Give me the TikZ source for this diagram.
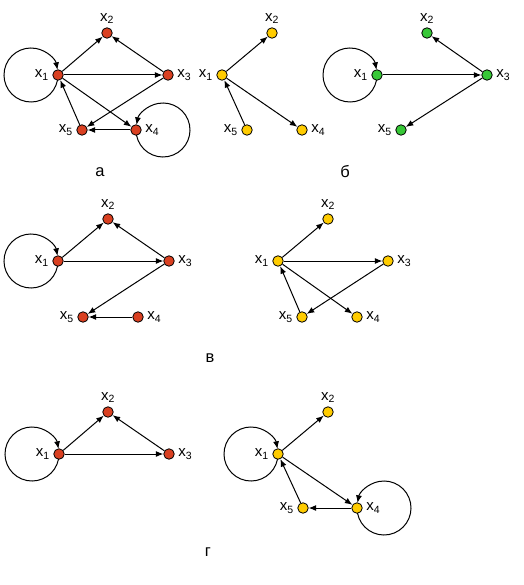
\documentclass[tikz,border=0pt]{standalone}
\usepackage{fontspec}
\setmainfont{Liberation Sans}
\usepackage{tikz}
\usepackage{xcolor}
\usetikzlibrary{arrows.meta}

\definecolor{vred}{RGB}{217,64,33}
\definecolor{vyellow}{RGB}{255,204,0}
\definecolor{vgreen}{RGB}{55,200,55}

\newcommand{\vx}[1]{x\textsubscript{#1}}

\begin{document}
\begin{tikzpicture}[
  x=1pt,
  y=-1pt,
  vertex/.style={
    circle,
    draw,
    line width=0.8pt,
    minimum size=10.5pt,
    inner sep=0pt,
  },
  redv/.style={vertex, fill=vred},
  yelv/.style={vertex, fill=vyellow},
  grnv/.style={vertex, fill=vgreen},
  every label/.style={font=\fontsize{15}{16}\selectfont, inner sep=3.5pt},
  label distance=0pt,
  arr/.style={draw, line width=1pt, -{Latex[length=7.5pt, width=6pt]}},
  caption/.style={font=\fontsize{16.5}{18}\selectfont},
]
\useasboundingbox (0,0) rectangle (523,585);

% graph a
\node[redv, label={left:\vx1}] (a1) at (58,75) {};
\node[redv, label={above:\vx2}] (a2) at (107,33) {};
\node[redv, label={right:\vx3}] (a3) at (168,75) {};
\node[redv, label={right:\vx4}] (a4) at (136,130) {};
\node[redv, label={left:\vx5}] (a5) at (82,130) {};
\draw[arr] (a1) -- (a2);
\draw[arr] (a3) -- (a2);
\draw[arr] (a1) -- (a3);
\draw[arr] (a3) -- (a5);
\draw[arr] (a1) -- (a4);
\draw[arr] (a4) -- (a5);
\draw[arr] (a5) -- (a1);
\draw[arr] (a1) ++(-27pt,0) ++(-11:27pt) arc[start angle=-11, end angle=-349, radius=27pt];
\draw[arr] (a4) ++(27pt,0) ++(191:27pt) arc[start angle=191, end angle=529, radius=27pt];

% graph b
\node[yelv, label={left:\vx1}] (b1) at (222,75) {};
\node[yelv, label={above:\vx2}] (b2) at (272,33) {};
\node[yelv, label={right:\vx4}] (b4) at (302,130) {};
\node[yelv, label={left:\vx5}] (b5) at (247,130) {};
\draw[arr] (b1) -- (b2);
\draw[arr] (b1) -- (b4);
\draw[arr] (b5) -- (b1);

% graph c
\node[grnv, label={left:\vx1}] (c1) at (377,75) {};
\node[grnv, label={above:\vx2}] (c2) at (427,33) {};
\node[grnv, label={right:\vx3}] (c3) at (487,75) {};
\node[grnv, label={left:\vx5}] (c5) at (401,130) {};
\draw[arr] (c1) -- (c3);
\draw[arr] (c3) -- (c2);
\draw[arr] (c3) -- (c5);
\draw[arr] (c1) ++(-27pt,0) ++(-11:27pt) arc[start angle=-11, end angle=-349, radius=27pt];

\node[caption] (capa) at (100,172) {а};
\node[caption] (capb) at (345,172) {б};

% graph d
\node[redv, label={left:\vx1}] (d1) at (58,261) {};
\node[redv, label={above:\vx2}] (d2) at (108,219) {};
\node[redv, label={right:\vx3}] (d3) at (169,261) {};
\node[redv, label={right:\vx4}] (d4) at (138,317) {};
\node[redv, label={left:\vx5}] (d5) at (83,317) {};
\draw[arr] (d1) -- (d2);
\draw[arr] (d3) -- (d2);
\draw[arr] (d1) -- (d3);
\draw[arr] (d3) -- (d5);
\draw[arr] (d4) -- (d5);
\draw[arr] (d1) ++(-27pt,0) ++(-11:27pt) arc[start angle=-11, end angle=-349, radius=27pt];

% graph e
\node[yelv, label={left:\vx1}] (e1) at (278,261) {};
\node[yelv, label={above:\vx2}] (e2) at (328,219) {};
\node[yelv, label={right:\vx3}] (e3) at (388,261) {};
\node[yelv, label={right:\vx4}] (e4) at (357,317) {};
\node[yelv, label={left:\vx5}] (e5) at (302,317) {};
\draw[arr] (e1) -- (e2);
\draw[arr] (e1) -- (e3);
\draw[arr] (e1) -- (e4);
\draw[arr] (e3) -- (e5);
\draw[arr] (e5) -- (e1);

\node[caption] (capc) at (210,358) {в};

% graph f
\node[redv, label={left:\vx1}] (f1) at (59,454) {};
\node[redv, label={above:\vx2}] (f2) at (108,412) {};
\node[redv, label={right:\vx3}] (f3) at (169,454) {};
\draw[arr] (f1) -- (f2);
\draw[arr] (f3) -- (f2);
\draw[arr] (f1) -- (f3);
\draw[arr] (f1) ++(-27pt,0) ++(-11:27pt) arc[start angle=-11, end angle=-349, radius=27pt];

% graph g
\node[yelv, label={left:\vx1}] (g1) at (278,454) {};
\node[yelv, label={above:\vx2}] (g2) at (328,412) {};
\node[yelv, label={right:\vx4}] (g4) at (357,508) {};
\node[yelv, label={left:\vx5}] (g5) at (303,508) {};
\draw[arr] (g1) -- (g2);
\draw[arr] (g1) -- (g4);
\draw[arr] (g4) -- (g5);
\draw[arr] (g5) -- (g1);
\draw[arr] (g1) ++(-27pt,0) ++(-11:27pt) arc[start angle=-11, end angle=-349, radius=27pt];
\draw[arr] (g4) ++(27pt,0) ++(191:27pt) arc[start angle=191, end angle=529, radius=27pt];

\node[caption] (capd) at (208,552) {г};
\end{tikzpicture}
\end{document}
